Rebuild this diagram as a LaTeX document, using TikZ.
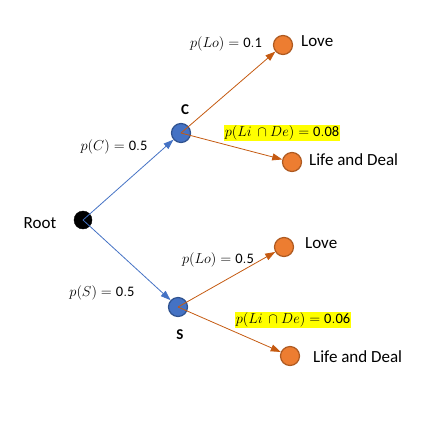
\documentclass[tikz,border=0pt]{standalone}
\usepackage{fontspec}
\setmainfont{Carlito}
\usetikzlibrary{arrows.meta}
\definecolor{cblue}{RGB}{68,114,196}
\definecolor{cblueD}{RGB}{47,82,143}
\definecolor{corange}{RGB}{237,125,49}
\definecolor{corangeD}{RGB}{174,90,33}
\definecolor{clineO}{RGB}{197,90,17}
\definecolor{hl}{RGB}{255,255,0}
\begin{document}
\begin{tikzpicture}[x=1pt,y=-1pt,
  bnode/.style={circle,fill=cblue,draw=cblueD,line width=1.2pt,minimum size=19pt,inner sep=0pt},
  onode/.style={circle,fill=corange,draw=corangeD,line width=1.2pt,minimum size=19pt,inner sep=0pt},
  rnode/.style={circle,fill=black,draw=black,minimum size=18pt,inner sep=0pt},
  bline/.style={draw=cblue,line width=0.8pt,-{Triangle[length=10pt,width=7pt]}},
  oline/.style={draw=clineO,line width=0.8pt,-{Triangle[length=10pt,width=7pt]}},
  txt/.style={font=\fontsize{17}{19}\selectfont,inner sep=0pt},
  lab/.style={font=\fontsize{14.5}{16}\selectfont,inner sep=0pt},
  hlab/.style={lab,fill=hl,inner sep=1pt}]
\useasboundingbox (0,0) rectangle (441,429);
\node[rnode] (root) at (83,220) {};
\node[bnode] (c) at (181,133) {};
\node[bnode] (s) at (178,307) {};
\node[onode] (lo1) at (283,45) {};
\node[onode] (ld1) at (292,162) {};
\node[onode] (lo2) at (284,247) {};
\node[onode] (ld2) at (290,356) {};
\draw[bline] (root.center) -- (c);
\draw[bline] (root.center) -- (s);
\draw[oline] (c.center) -- (lo1);
\draw[oline] (c.center) -- (ld1);
\draw[oline] (s.center) -- (lo2);
\draw[oline] (s.center) -- (ld2);
\node[txt,anchor=west] (t1) at (301,41) {Love};
\node[txt,anchor=west] (t2) at (309,160) {Life and Deal};
\node[txt,anchor=west] (t3) at (305,243) {Love};
\node[txt,anchor=west] (t4) at (313,357) {Life and Deal};
\node[txt] (troot) at (40,223) {Root};
\node[txt,font=\fontsize{15}{17}\selectfont\bfseries] (tc) at (185,110) {C};
\node[txt,font=\fontsize{15}{17}\selectfont\bfseries] (ts) at (180,335) {S};
\node[lab] (l1) at (226,44) {$p(Lo)=\mathrm{0.1}$};
\node[lab] (l2) at (114,147) {$p(C)=\mathrm{0.5}$};
\node[hlab] (l3) at (282,133) {$p(Li\,\cap De)=\mathrm{0.08}$};
\node[lab] (l4) at (218,260) {$p(Lo)=\mathrm{0.5}$};
\node[lab] (l5) at (102,293) {$p(S)=\mathrm{0.5}$};
\node[hlab] (l6) at (293,320) {$p(Li\,\cap De)=\mathrm{0.06}$};
\end{tikzpicture}
\end{document}
